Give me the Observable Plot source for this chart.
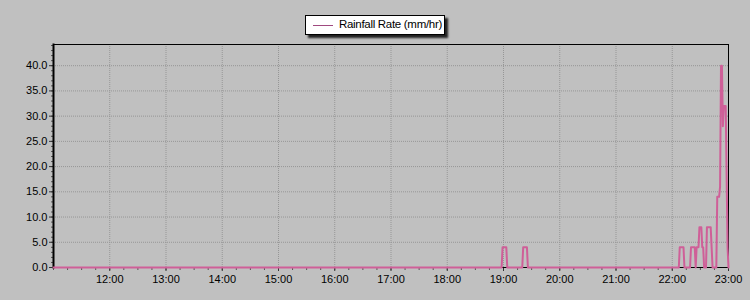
<!DOCTYPE html>
<html>
<head>
<meta charset="utf-8">
<script src="https://cdn.jsdelivr.net/npm/d3@7"></script>
<script src="https://cdn.jsdelivr.net/npm/@observablehq/plot@0.6"></script>
<style>
  html, body { margin: 0; padding: 0; background: #c0c0c0; }
  #wrap { position: relative; width: 750px; height: 300px; }
  #legend {
    position: absolute; left: 305px; top: 15px; width: 138px; height: 18px;
    background: #fff; border: 1px solid #000; box-shadow: 3px 3px 2px #222;
    overflow: hidden; font-family: "Liberation Sans", Arial, sans-serif; font-size: 11.5px;
    color: #000; white-space: nowrap; box-sizing: content-box;
  }
  #legend .sw { position: absolute; left: 7px; top: 9px; width: 20px; height: 0; border-top: 1px solid #a04a80; }
  #legend .tx { position: absolute; left: 33px; top: 2px; letter-spacing: -0.3px; }
</style>
</head>
<body>
<div id="wrap">
  <div id="legend"><span class="sw"></span><span class="tx"></span></div>
</div>
<script>
const seriesName = "Rainfall Rate (mm/hr)";
const times = ["11:00","18:58","18:59","19:03","19:04","19:20","19:21","19:25","19:26",
  "22:07","22:08","22:12","22:13","22:19","22:20","22:24","22:25","22:26","22:28","22:29",
  "22:31","22:32","22:33","22:34","22:36","22:37","22:41","22:43","22:47","22:48","22:50",
  "22:51","22:52","22:53","22:54","22:55","22:57","22:59","23:00"];
const rates = [0,0,4,4,0,0,4,4,0,
  0,4,4,0,0,4,4,0,4,4,8,
  8,4,4,0,0,8,8,0,0,14,14,
  16,40,40,28,32,32,4,0];
const xStart = "11:00", xEnd = "23:00";
const yTicks = [0,5,10,15,20,25,30,35,40];
const yMax = 44.2;

const parse = s => new Date(Date.UTC(2000, 0, 1, +s.slice(0,2), +s.slice(3,5)));
const data = times.map((t, i) => ({time: parse(t), rate: rates[i]}));

document.querySelector("#legend .tx").textContent = seriesName;

const hourTicks = d3.utcHour.every(1).range(parse("12:00"), new Date(+parse(xEnd) + 1));
const gridHours = hourTicks.slice(0, -1);

const chart = Plot.plot({
  width: 750,
  height: 300,
  marginLeft: 53,
  marginRight: 22,
  marginTop: 44,
  marginBottom: 33,
  style: {background: "#c0c0c0", fontFamily: "Liberation Sans, Arial, sans-serif", fontSize: "11px", color: "#000"},
  x: {type: "utc", domain: [parse(xStart), parse(xEnd)]},
  y: {domain: [0, yMax]},
  marks: [
    Plot.gridY(yTicks.slice(1), {stroke: "#969696", strokeOpacity: 1, strokeDasharray: "1,1"}),
    Plot.gridX(gridHours, {stroke: "#969696", strokeOpacity: 1, strokeDasharray: "1,1"}),
    Plot.axisY(d3.range(0, 45, 1), {tickSize: 2, text: null, stroke: "#555", label: null}),
    Plot.axisY(yTicks, {tickSize: 4, tickPadding: 2, tickFormat: d3.format(".1f"), label: null, stroke: "#333", fill: "#000"}),
    Plot.axisX(d3.utcMinute.every(15).range(parse(xStart), parse(xEnd)), {tickSize: 3, text: null, stroke: "#555", label: null}),
    Plot.axisX(hourTicks, {tickSize: 4, tickPadding: 4, tickFormat: d3.utcFormat("%H:%M"), label: null, stroke: "#333", fill: "#000"}),
    Plot.frame({stroke: "#000", strokeWidth: 1}),
    Plot.frame({anchor: "left", stroke: "#000", strokeWidth: 2}),
    Plot.line(data, {x: "time", y: "rate", stroke: "#cf5f98", strokeWidth: 2, curve: "linear"})
  ]
});
document.getElementById("wrap").prepend(chart);
</script>
</body>
</html>
